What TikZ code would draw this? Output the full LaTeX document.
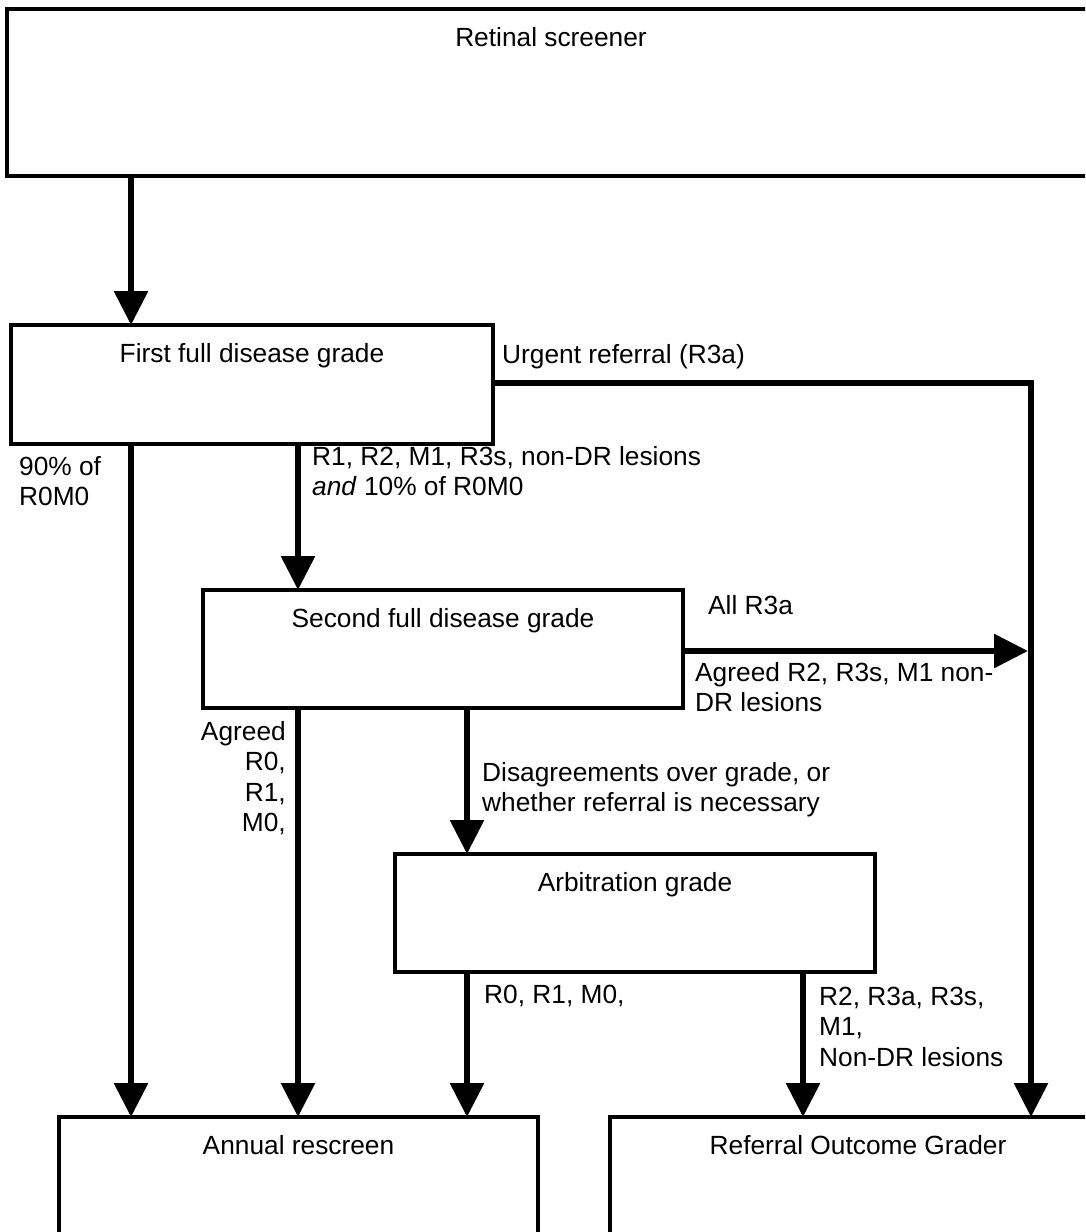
\documentclass[tikz,border=0pt]{standalone}
\usepackage{fontspec}
\setmainfont{Liberation Sans}
\usetikzlibrary{arrows.meta}
\begin{document}
\begin{tikzpicture}[x=1pt,y=-1pt,
  box/.style={draw, line width=4pt, rectangle, anchor=north west, inner sep=0pt, outer sep=0pt},
  lbl/.style={font=\fontsize{26.3}{30.5}\selectfont, inner sep=0pt},
  boxlbl/.style={label={[lbl,anchor=base,yshift=-37pt]north:#1}},
  arr/.style={line width=6pt, -{Triangle[length=34pt,width=33pt]}},
  conn/.style={line width=6pt}]
\useasboundingbox (0,0) rectangle (1085,1232);
\clip (0,0) rectangle (1085,1232);
% boxes
\node[box, minimum width=1088pt, minimum height=167pt, boxlbl={Retinal screener}] (screen) at (7,9) {};
\node[box, minimum width=482pt, minimum height=119pt, boxlbl={First full disease grade}] (first) at (11,325) {};
\node[box, minimum width=480pt, minimum height=118pt, boxlbl={Second full disease grade}] (second) at (203,590) {};
\node[box, minimum width=480pt, minimum height=118pt, boxlbl={Arbitration grade}] (arb) at (395,854) {};
\node[box, minimum width=479pt, minimum height=140pt, boxlbl={Annual rescreen}] (annual) at (59,1117) {};
\node[box, minimum width=496pt, minimum height=140pt, boxlbl={Referral Outcome Grader}] (refer) at (610,1117) {};
% helper coordinates
\coordinate (xa) at (131,0);
\coordinate (xb) at (298,0);
\coordinate (xc) at (467,0);
\coordinate (xd) at (803,0);
\coordinate (xe) at (1031,0);
\coordinate (uc) at (1031,383);
\coordinate (rj) at (1028,651);
% connectors
\draw[arr] (screen.south -| xa) -- (first.north -| xa);
\draw[arr] (first.south -| xa) -- (annual.north -| xa);
\draw[arr] (first.south -| xb) -- (second.north -| xb);
\draw[arr] (second.south -| xb) -- (annual.north -| xb);
\draw[arr] (second.south -| xc) -- (arb.north -| xc);
\draw[arr] (arb.south -| xc) -- (annual.north -| xc);
\draw[arr] (arb.south -| xd) -- (refer.north -| xd);
\draw[arr, line join=miter] (first.east |- uc) -- (uc) -- (refer.north -| uc);
\draw[arr] (second.east |- rj) -- (rj);
% labels (multi-line nodes: base = baseline of last line)
\node[lbl, anchor=base west] (lurg) at (502,363) {Urgent referral (R3a)};
\node[lbl, anchor=base west, align=left] (l90) at (19,505.5) {90\% of\\R0M0};
\node[lbl, anchor=base west, align=left] (lr1) at (312,495.5) {R1, R2, M1, R3s, non-DR lesions\\\textit{and} 10\% of R0M0};
\node[lbl, anchor=base west] (lall) at (708,614) {All R3a};
\node[lbl, anchor=base west, align=left] (lagr2) at (695,711.5) {Agreed R2, R3s, M1 non-\\DR lesions};
\node[lbl, anchor=base east, align=right] (lagr0) at (286,831.5) {Agreed\\R0,\\R1,\\M0,};
\node[lbl, anchor=base west, align=left] (ldis) at (482,811.5) {Disagreements over grade, or\\whether referral is necessary};
\node[lbl, anchor=base west] (lr0) at (484,1003) {R0, R1, M0,};
\node[lbl, anchor=base west, align=left] (lr2) at (819,1066) {R2, R3a, R3s,\\M1,\\Non-DR lesions};
\end{tikzpicture}
\end{document}
